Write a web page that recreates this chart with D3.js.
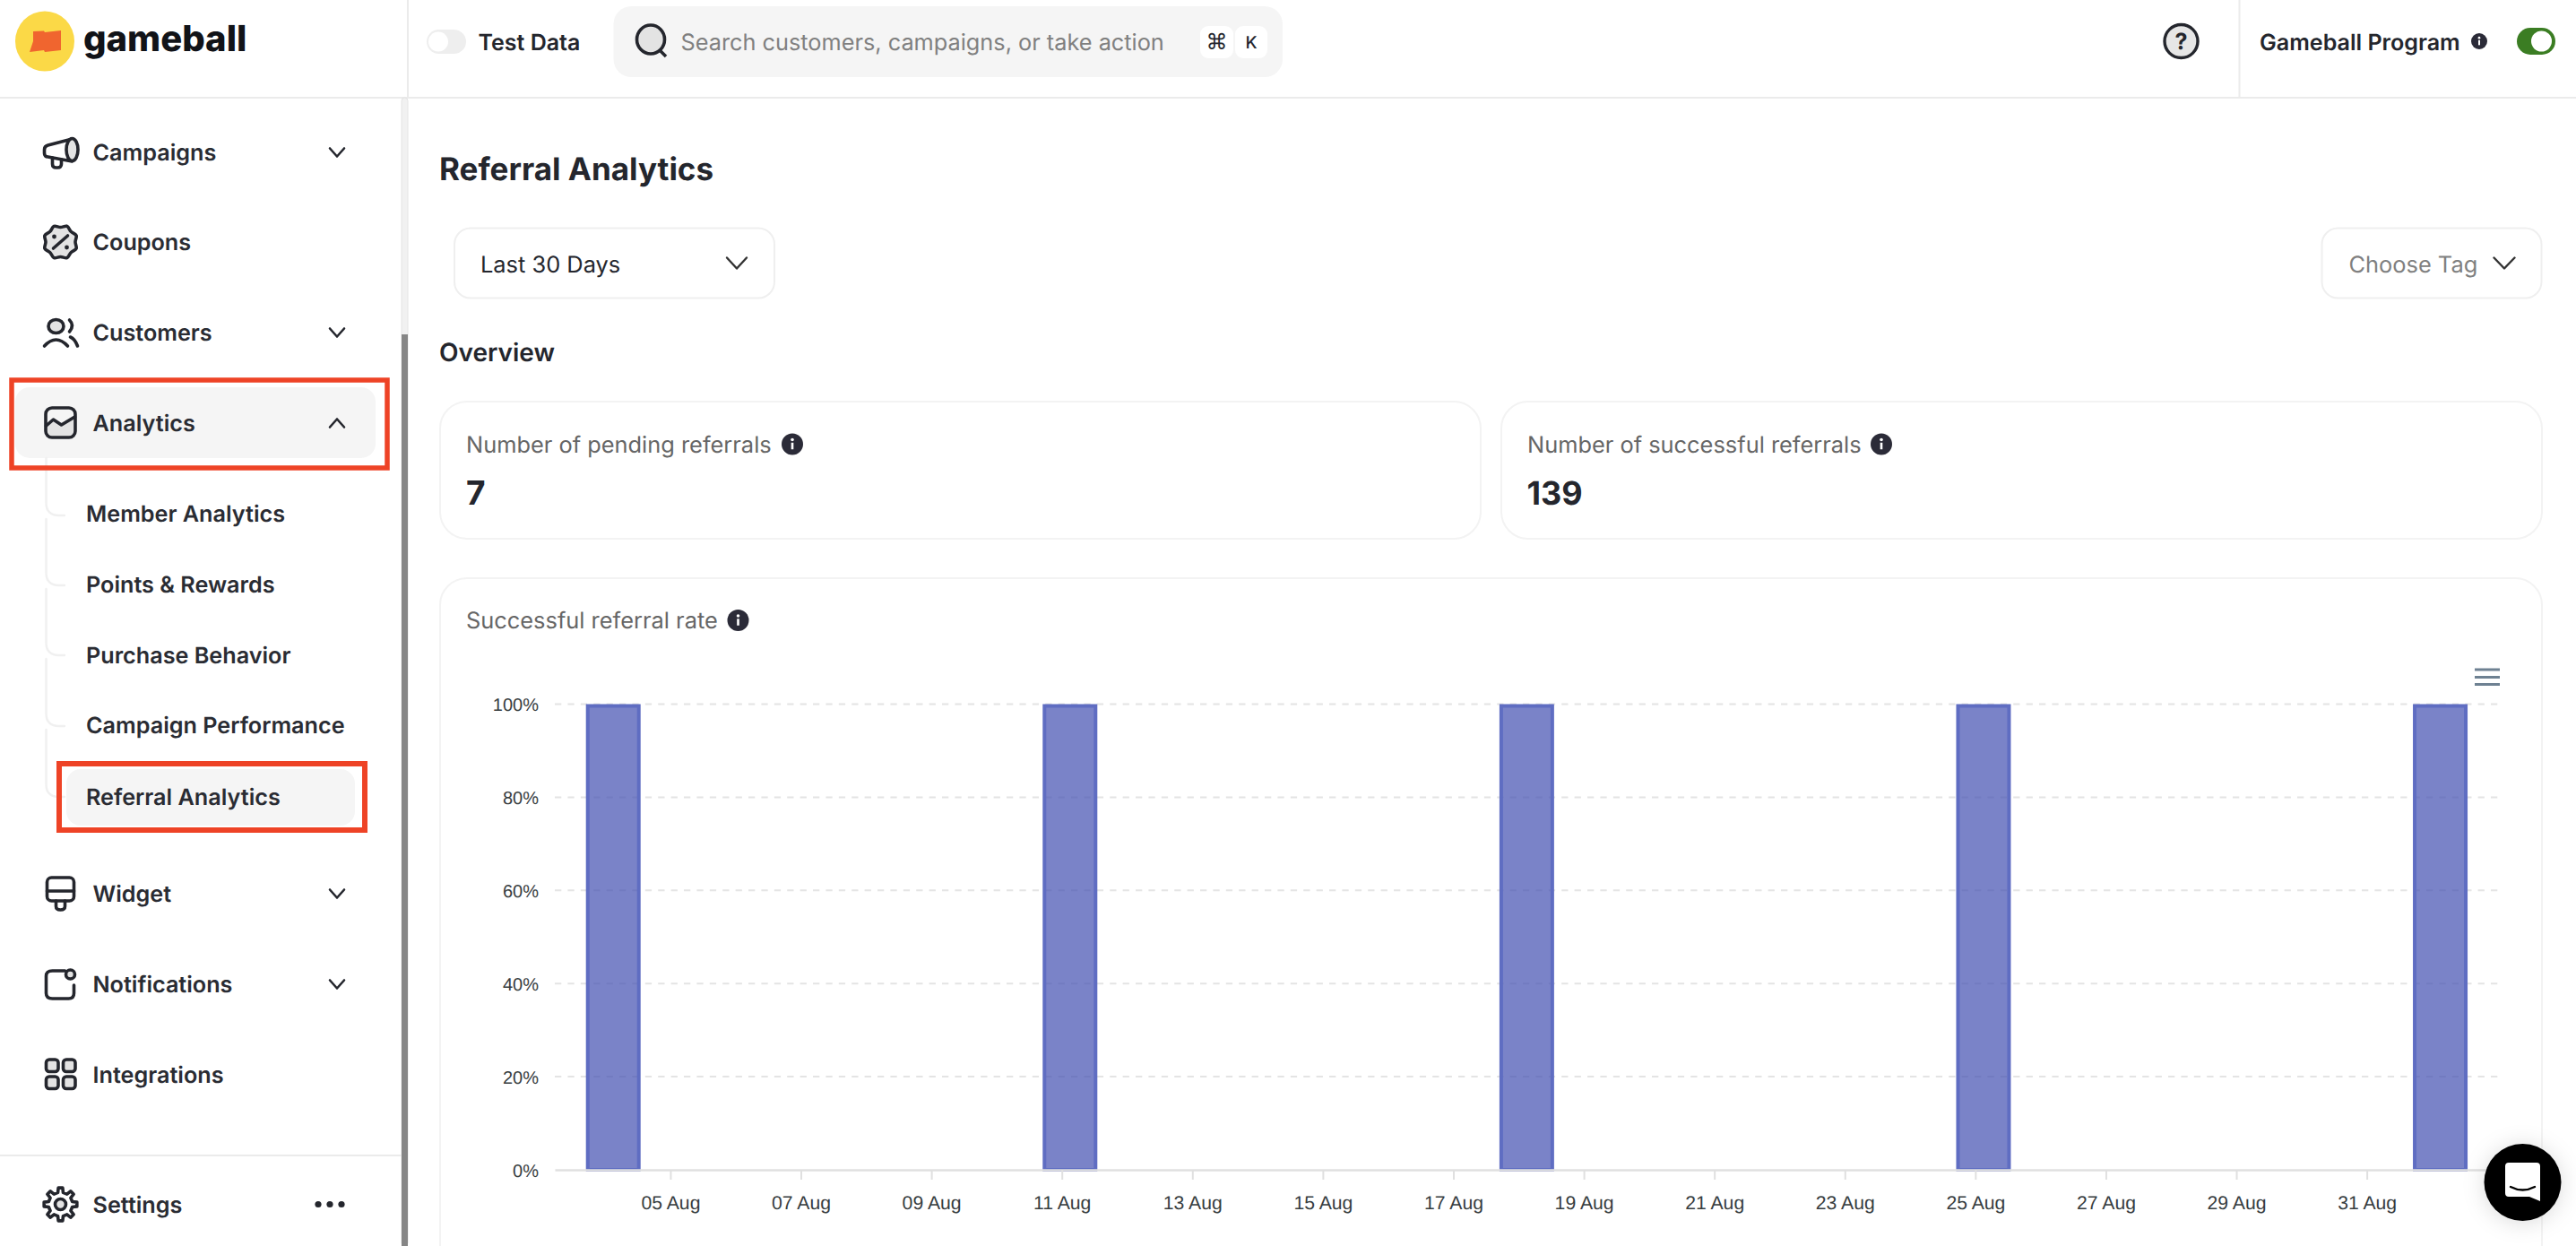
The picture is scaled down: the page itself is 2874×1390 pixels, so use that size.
<!DOCTYPE html>
<html><head><meta charset="utf-8">
<script src="https://cdn.jsdelivr.net/npm/d3@7"></script>
<style>
html,body{margin:0;padding:0;background:#fff;overflow:hidden}
svg{display:block;font-family:Inter,"Noto Sans",sans-serif;text-rendering:geometricPrecision}
</style></head><body>
<div id="app"></div>
<script>
// ---- chart data ----
const barDates = ["2024-08-04T03:00Z","2024-08-11T03:00Z","2024-08-18T03:00Z","2024-08-25T03:00Z","2024-09-01T03:00Z"];
const barRates = [100,100,100,100,100];
const xTickDates = ["2024-08-05","2024-08-07","2024-08-09","2024-08-11","2024-08-13","2024-08-15","2024-08-17","2024-08-19","2024-08-21","2024-08-23","2024-08-25","2024-08-27","2024-08-29","2024-08-31"];
const yTicks = [0,20,40,60,80,100];
const pendingReferrals = 7;
const successfulReferrals = 139;
// ---- page text ----
const navMain = ["Campaigns","Coupons","Customers","Analytics","Widget","Notifications","Integrations","Settings"];
const navSub = ["Member Analytics","Points & Rewards","Purchase Behavior","Campaign Performance","Referral Analytics"];

const W=2874,H=1390, INK="#24262D", LINE="#EBEBEB";
const svg=d3.select("#app").append("svg").attr("width",W).attr("height",H).attr("viewBox",`0 0 ${W} ${H}`);
const T=(t,x,y,size,weight,fill,anchor)=>svg.append("text").attr("x",x).attr("y",y).attr("font-size",size).attr("font-weight",weight).attr("fill",fill||INK).attr("text-anchor",anchor||"start").text(t);
const R=(x,y,w,h,r,fill,stroke,sw,par)=>(par||svg).append("rect").attr("x",x).attr("y",y).attr("width",w).attr("height",h).attr("rx",r).attr("fill",fill||"none").attr("stroke",stroke||"none").attr("stroke-width",sw||0);
const L=(x1,y1,x2,y2,c,sw)=>svg.append("line").attr("x1",x1).attr("y1",y1).attr("x2",x2).attr("y2",y2).attr("stroke",c).attr("stroke-width",sw);
const P=(d,o={},par)=>{const p=(par||svg).append("path").attr("d",d).attr("fill",o.fill||"none").attr("stroke",o.stroke||"none").attr("stroke-width",o.sw||0).attr("stroke-linecap","round").attr("stroke-linejoin","round");return p;};
const chev=(cx,cy,hw,hh,up,c,sw)=>P(up?`M${cx-hw},${cy+hh}L${cx},${cy-hh}L${cx+hw},${cy+hh}`:`M${cx-hw},${cy-hh}L${cx},${cy+hh}L${cx+hw},${cy-hh}`,{stroke:c||INK,sw:sw||2.6});
const info=(cx,cy,r)=>{svg.append("circle").attr("cx",cx).attr("cy",cy).attr("r",r).attr("fill","#2B2B38");
  svg.append("circle").attr("cx",cx).attr("cy",cy-r*.42).attr("r",r*.15).attr("fill","#fff");
  svg.append("rect").attr("x",cx-r*.11).attr("y",cy-r*.14).attr("width",r*.22).attr("height",r*.62).attr("fill","#fff");};

// ---- chrome ----
L(0,109,W,109,LINE,2);
L(455,0,455,109,LINE,2);
L(2498.5,0,2498.5,109,LINE,2);
R(448,109,7,H-109,3.5,"#F1F1F1","#E4E4E4",1);
R(448,373,7,H-373,0,"#868686");

// logo
svg.append("ellipse").attr("cx",50).attr("cy",46).attr("rx",33).attr("ry",33.5).attr("fill","#FBD947");
P("M37,35L49,34.5L50,36L68,34L68,56L50,58L49,56L33,58L37,46Z",{fill:"#F0652F"});
T("gameball",93,57,40,800,"#111318");

// sidebar highlight
R(17,432,402,79,16,"#F5F5F5");
R(74,858,322,63,16,"#F5F5F5");

// tree lines
const subY=[575,653,731,810,889];
subY.forEach((y,i)=>{const top=i==0?511:subY[i-1]+4;
  P(`M51.5,${top}L51.5,${y-14}Q51.5,${y} 66,${y}L72,${y}`,{stroke:"#F0F0F0",sw:2.4});});

// red boxes
R(13,424,419,98,0,"none","#EE4326",5.5);
R(66,852,341,74,0,"none","#EE4326",6);

// nav text
const navY=[170,270,371,472,997,1098,1199,1344];
navMain.forEach((t,i)=>T(t,103.5,navY[i]+8.5,25.2,600,"#2A2C33"));
const subTextY=[573,652,731,809,889];
navSub.forEach((t,i)=>T(t,96,subTextY[i]+8.5,25.2,600,"#2A2C33"));
[170,371,997,1098].forEach(y=>chev(376,y,8,4.5,false));
chev(376,472,8,4.5,true);
[355,368,381].forEach(x=>svg.append("circle").attr("cx",x).attr("cy",1343.5).attr("r",3.6).attr("fill",INK));
L(0,1289,448,1289,LINE,2);

// icons
const icon=(cy,cx=67.5)=>svg.append("g").attr("transform",`translate(${cx},${cy})`);
const IS={stroke:INK,sw:3.6}, GF="#E3E3E3";
let g=icon(170);
P("M13,-15L-14,-8Q-18,-7 -18,-3L-18,1Q-18,5 -14,5L13,10",IS,g);
g.append("ellipse").attr("cx",13).attr("cy",-3).attr("rx",6.5).attr("ry",12.5).attr("fill",GF).attr("stroke",INK).attr("stroke-width",3.6);
P("M-9,6L-9,13Q-9,17 -5,17L-3,17Q1,17 1,13L1,8",IS,g);
g=icon(270);
const badge=d3.lineRadial().curve(d3.curveCatmullRomClosed).angle(d=>d.a).radius(d=>d.r)(d3.range(16).map(i=>({a:i*Math.PI/8,r:i%2?19:16.5})));
P(badge,{stroke:INK,sw:3.6,fill:GF},g);
P("M8,-7L-8,7",IS,g);
g.append("circle").attr("cx",-7).attr("cy",-6).attr("r",2.4).attr("fill",INK);
g.append("circle").attr("cx",7).attr("cy",6).attr("r",2.4).attr("fill",INK);
g=icon(371);
g.append("ellipse").attr("cx",-5).attr("cy",-7).attr("rx",8.5).attr("ry",7.5).attr("fill",GF).attr("stroke",INK).attr("stroke-width",3.6);
P("M10,-14Q16,-8 10,-1",IS,g);
P("M-18,15Q-5,1 8,15",IS,g);
P("M11,5Q16,7 19,15",IS,g);
g=icon(472);
P("M-16,3L-8,-4L1,2L16,-7L16,11Q16,16 11,16L-11,16Q-16,16 -16,11Z",{fill:GF},g);
R(-16.5,-17,33,33,7,"none",INK,3.6,g);
P("M-16,3L-8,-4L1,2L16,-7",IS,g);
g=icon(997);
R(-15,-18,30,26,5,"none",INK,3.6,g);
P("M-15,-3L15,-3",IS,g);
P("M-5,8L-5,14Q-5,18 0,18Q5,18 5,14L5,8",IS,g);
g=icon(1098);
P("M5,-15L-9,-15Q-16,-15 -16,-9L-16,10Q-16,16 -9,16L9,16Q15,16 15,10L15,1",IS,g);
g.append("circle").attr("cx",11).attr("cy",-11).attr("r",5).attr("fill",GF).attr("stroke",INK).attr("stroke-width",3.6);
g=icon(1199);
[[-16,-17],[3,-17],[-16,2],[3,2]].forEach(([x,y])=>R(x,y,13.5,13.5,3.5,GF,INK,3.6,g));
g=icon(1343.5);
const gearPts=[];d3.range(8).forEach(i=>{const a=i*Math.PI/4;[[-.22,13.5],[-.13,18.5],[.13,18.5],[.22,13.5]].forEach(([d,r])=>gearPts.push([a+d,r]));});
P(d3.lineRadial().curve(d3.curveLinearClosed)(gearPts),IS,g);
g.append("circle").attr("r",6).attr("fill",GF).attr("stroke",INK).attr("stroke-width",3.6);

// top bar
R(476,33,44,27,13.5,"#EEEEEE");
svg.append("circle").attr("cx",489).attr("cy",46.5).attr("r",11).attr("fill","#fff");
T("Test Data",533.5,55.5,25,600);
R(684.5,7,746.5,79,20,"#F5F5F5");
svg.append("ellipse").attr("cx",726).attr("cy",44).attr("rx",15.5).attr("ry",16).attr("fill","#E3E3E3").attr("stroke",INK).attr("stroke-width",3.6);
L(737,57,743,63,INK,3.6);
T("Search customers, campaigns, or take action",759.5,55.5,25.3,400,"#808080");
R(1339,29,37,36,9,"#fff");R(1378,29,36,36,9,"#fff");
T("⌘",1357.5,55,24,500,INK,"middle").attr("font-family","'DejaVu Sans'");
T("K",1396,54,19,500,INK,"middle");
svg.append("circle").attr("cx",2433.5).attr("cy",46).attr("r",18.5).attr("fill","#E6E6E6").attr("stroke",INK).attr("stroke-width",3.4);
T("?",2433.5,55,25,700,INK,"middle");
T("Gameball Program",2521,55.5,25.1,600);
info(2766,46,9);
R(2808,31,43,30,15,"#3B7D23");
svg.append("circle").attr("cx",2835.5).attr("cy",46).attr("r",11.5).attr("fill","#fff");

// page header
T("Referral Analytics",490,201,35,700);
R(507,254.5,357,78,18,"#fff","#EFEFEF",2);
T("Last 30 Days",536,303.5,25.4,400);
chev(822,293.5,11,6,false,"#333",2.4);
R(2590.5,254.5,245,78,18,"#fff","#EFEFEF",2);
T("Choose Tag",2620.5,303.5,25.4,400,"#808080");
chev(2794,293.5,11.5,6,false,"#333",2.4);
T("Overview",490,402.5,28,600);

// cards
R(491,448,1161,153,30,"#fff","#F3F3F3",2);
R(1675,448,1161,153,30,"#fff","#F3F3F3",2);
R(491,645,2345,800,30,"#fff","#F3F3F3",2);
T("Number of pending referrals",520,504.5,25.4,400,"#666");
info(884,495.5,12);
T(pendingReferrals,520,562.5,37,700);
T("Number of successful referrals",1704,504.5,25.4,400,"#666");
info(2099,495.5,12);
T(successfulReferrals,1703.5,562.5,36,700);
T("Successful referral rate",520,701,25.4,400,"#666");
info(823.5,692,12);

// ---- chart ----
const parse=s=>new Date(s);
const x=d3.scaleUtc().domain([parse("2024-08-03T05:30Z"),parse("2024-09-02T00:15Z")]).range([619,2787]);
const y=d3.scaleLinear().domain([0,100]).range([1305,785.5]);
const chart=svg.append("g").attr("font-family","'Liberation Sans',Arial,sans-serif");
const fmt=d3.utcFormat("%d %b");
chart.append("g").selectAll("line").data(yTicks.filter(v=>v>0)).join("line")
  .attr("x1",619).attr("x2",2787).attr("y1",y).attr("y2",y)
  .attr("stroke","#E4E4E4").attr("stroke-width",2).attr("stroke-dasharray","7.3 7.1");
const barW=61,bs=4;
chart.append("g").selectAll("rect").data(barDates.map((d,i)=>({d:parse(d),v:barRates[i]}))).join("rect")
  .attr("x",d=>x(d.d)-barW/2+bs/2).attr("width",barW-bs)
  .attr("y",d=>y(d.v)+bs/2).attr("height",d=>y(0)-y(d.v)-bs/2)
  .attr("fill","rgba(66,78,176,0.7)").attr("stroke","#5F6DC2").attr("stroke-width",bs);
const xa=d3.axisBottom(x).tickValues(xTickDates.map(parse)).tickFormat(fmt).tickSize(11).tickSizeOuter(0).tickPadding(0);
const xg=chart.append("g").attr("transform","translate(0,1305)").call(xa);
xg.select(".domain").attr("stroke","#E0E0E0").attr("stroke-width",2.5);
xg.selectAll(".tick line").attr("stroke","#E0E0E0").attr("stroke-width",2);
xg.selectAll(".tick text").attr("y",43.5).attr("dy",0).attr("font-size",21.2).attr("fill","#373D3F").attr("font-family","'Liberation Sans',Arial,sans-serif");
const ya=d3.axisLeft(y).tickValues(yTicks).tickFormat(v=>v+"%").tickSize(0).tickPadding(0);
const yg=chart.append("g").attr("transform","translate(601,0)").call(ya);
yg.select(".domain").remove();
yg.selectAll(".tick text").attr("dy",7).attr("font-size",20).attr("fill","#373D3F").attr("font-family","'Liberation Sans',Arial,sans-serif");
// hamburger
[747,755.5,763.5].forEach(v=>L(2761,v,2789,v,"#6E8192",3));

// chat launcher
const defs=svg.append("defs");
const fl=defs.append("filter").attr("id","sh").attr("x","-50%").attr("y","-50%").attr("width","200%").attr("height","200%");
fl.append("feDropShadow").attr("dx",0).attr("dy",2).attr("stdDeviation",12).attr("flood-opacity",.14);
svg.append("circle").attr("cx",2814.5).attr("cy",1319).attr("r",43).attr("fill","#000").attr("filter","url(#sh)");
P("M2799,1297L2830,1297Q2834,1297 2834,1301L2834,1340L2822,1335L2799,1335Q2795,1335 2795,1331L2795,1301Q2795,1297 2799,1297Z",{fill:"#fff"});
P("M2801,1324Q2814.5,1331 2828,1324",{stroke:"#000",sw:2.4});
</script></body></html>
